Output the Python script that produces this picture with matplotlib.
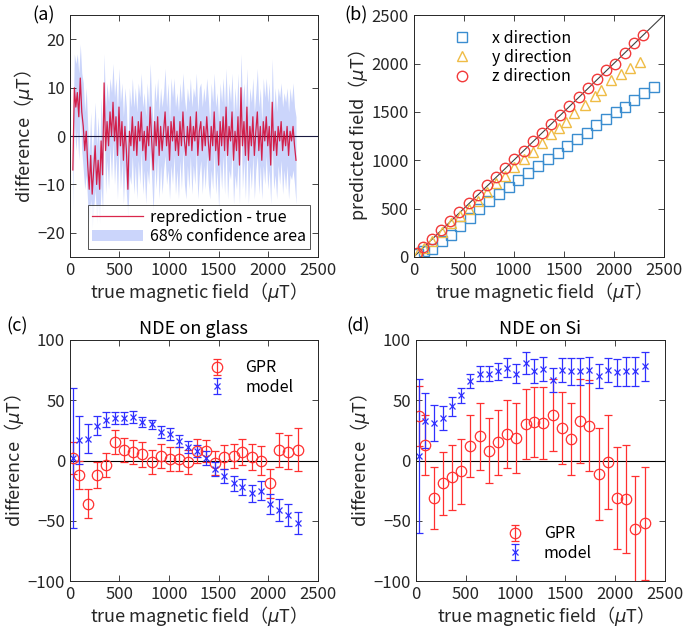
import numpy as np
import matplotlib
matplotlib.use('Agg')
import matplotlib.pyplot as plt

plt.rcParams['font.family'] = ['Noto Sans CJK JP', 'DejaVu Sans']
plt.rcParams['mathtext.fontset'] = 'dejavusans'

# ---- (a) reprediction - true ----
a_x = np.arange(30, 2281, 15)
a_diff = [
    -7, 10, 6, 9, 4, 12, 5, 2, -3, 1,
    -6, -11, -4, -12, -7, -2, -10, -5, -11, -1,
    -8, 11, -3, 3, -2, 5, 0, 7, -1, 4,
    -4, 6, -2, 3, -5, 2, -3, -11, 1, -2,
    4, -3, 2, -4, 3, -1, 5, -3, 1, -5,
    2, -2, 6, -1, -7, 3, -2, 4, -4, 2,
    -3, 1, 5, -2, 2, -5, 3, -1, 4, -3,
    1, -4, 3, -2, 5, -1, -4, 2, -2, 4,
    -3, 2, -1, 5, -4, 1, 3, -3, 2, -2,
    4, -1, -5, 2, -2, 5, -3, 1, -6, 3,
    -2, 4, -3, 6, -4, 2, -1, 5, -5, 1,
    -3, 4, -6, 10, -2, 3, -4, 6, -5, 2,
    -2, 4, -4, 1, 5, -3, 2, -5, 3, -1,
    4, -2, 2, -6, 7, -3, 1, -4, 2, -1,
    3, -3, 1, -2, 2, -4, 1, -1, 2, -2,
    -5]
a_sigma = [
    8, 7, 9, 8, 9, 7, 8, 9, 8, 9,
    8, 7, 9, 7, 8, 9, 8, 9, 7, 9,
    8, 6, 9, 8, 9, 7, 9, 8, 9, 8,
    9, 8, 9, 8, 9, 8, 9, 6, 9, 8,
    8, 9, 8, 9, 8, 9, 8, 9, 8, 9,
    9, 8, 9, 8, 9, 8, 9, 8, 9, 8,
    9, 8, 9, 8, 9, 8, 9, 9, 8, 9,
    8, 9, 8, 9, 8, 9, 9, 8, 9, 8,
    9, 8, 9, 8, 9, 9, 8, 9, 8, 9,
    8, 9, 8, 9, 9, 8, 9, 8, 9, 8,
    9, 8, 9, 8, 9, 9, 8, 8, 9, 9,
    8, 9, 8, 7, 9, 8, 9, 8, 9, 8,
    9, 8, 9, 8, 9, 9, 8, 8, 9, 9,
    8, 9, 9, 8, 9, 8, 9, 9, 8, 9,
    8, 9, 8, 9, 8, 9, 9, 8, 9, 8,
    9]

# ---- (b) predicted vs true ----
bx_true = [43, 100, 180, 280, 373, 467, 560, 653, 753, 853, 953, 1047, 1147,
           1247, 1347, 1440, 1537, 1637, 1733, 1827, 1923, 2020, 2117, 2207, 2300, 2400]
bx_pred = [34, 58, 83, 162, 230, 316, 402, 495, 581, 650, 719, 798, 873,
           942, 1011, 1080, 1152, 1217, 1279, 1362, 1427, 1496, 1554, 1623, 1699, 1754]
by_true = [40, 100, 185, 280, 370, 460, 550, 640, 730, 825, 915, 1005, 1100,
           1190, 1280, 1370, 1450, 1520, 1600, 1710, 1810, 1877, 1977, 2070, 2167, 2260]
by_pred = [38, 90, 170, 260, 350, 420, 500, 580, 670, 760, 840, 930, 1010,
           1090, 1175, 1270, 1330, 1400, 1490, 1570, 1665, 1730, 1829, 1891, 1950, 2019]
bz_true = [35, 95, 185, 275, 365, 455, 550, 640, 730, 825, 915, 1005, 1100,
           1190, 1280, 1375, 1465, 1555, 1650, 1740, 1835, 1925, 2015, 2110, 2200, 2290]
bz_pred = [40, 100, 190, 280, 370, 465, 555, 645, 740, 830, 920, 1010, 1100,
           1195, 1285, 1380, 1470, 1560, 1655, 1745, 1840, 1930, 2000, 2110, 2210, 2300]

# ---- (c), (d) NDE ----
nde_x = [35, 95, 185, 275, 365, 455, 545, 640, 730, 825, 915, 1005, 1100,
         1190, 1280, 1375, 1465, 1555, 1650, 1740, 1835, 1925, 2020, 2110, 2200, 2295]

glass_gpr = [2, -12, -36, -12, -4, 15, 9, 7, 5, -1, 4, 1, 1,
             -1, 8, 8, -2, 3, 4, 7, 3, 0, -19, 9, 7, 9]
glass_gpr_err = [13, 12, 12, 11, 10, 10, 10, 10, 10, 10, 10, 10, 10,
                 10, 10, 9, 10, 10, 10, 11, 11, 12, 12, 14, 14, 18]
glass_model = [2, 17, 18, 29, 34, 35, 35, 36, 32, 30, 24, 22, 16,
               11, 8, 2, -7, -13, -19, -22, -27, -25, -36, -41, -45, -52]
glass_model_err = [58, 20, 12, 8, 6, 5, 5, 5, 4, 4, 5, 5, 5,
                   5, 5, 6, 6, 6, 6, 7, 7, 8, 8, 9, 9, 9]

si_gpr = [37, 13, -31, -19, -14, -9, 12, 20, 8, 15, 22, 19, 30,
          32, 31, 38, 27, 18, 33, 29, -11, -1, -31, -32, -57, -52]
si_gpr_err = [25, 25, 26, 26, 27, 27, 26, 28, 27, 27, 28, 29, 29,
              29, 30, 30, 30, 30, 35, 38, 38, 39, 42, 45, 44, 47]
si_model = [4, 33, 31, 35, 45, 54, 66, 72, 72, 74, 77, 72, 81,
            74, 76, 67, 75, 74, 74, 75, 70, 75, 73, 74, 74, 78]
si_model_err = [64, 23, 15, 10, 8, 6, 6, 6, 6, 7, 8, 8, 9,
                10, 10, 10, 10, 11, 11, 11, 10, 10, 11, 12, 12, 12]

fig = plt.figure(figsize=(6.85, 6.33), dpi=100)
ax_a = fig.add_axes([0.102, 0.594, 0.362, 0.382])
ax_b = fig.add_axes([0.604, 0.594, 0.365, 0.382])
ax_c = fig.add_axes([0.102, 0.082, 0.362, 0.381])
ax_d = fig.add_axes([0.607, 0.082, 0.364, 0.381])

mu = 'true magnetic field（$\\mu$T）'
dif = 'difference（$\\mu$T）'
TXT = '#262626'


def style(ax):
    ax.tick_params(direction='in', top=True, right=True, labelsize=12,
                   colors=TXT, length=4, width=0.6)
    for s in ax.spines.values():
        s.set_color(TXT)
        s.set_linewidth(0.7)
    ax.set_xlim(0, 2500)
    ax.set_xticks([0, 500, 1000, 1500, 2000, 2500])
    ax.set_xlabel(mu, fontsize=13, color=TXT, labelpad=1)


# (a)
d = np.array(a_diff, dtype=float)
sg = np.array(a_sigma, dtype=float)
band = ax_a.fill_between(a_x, d - sg, d + sg, color='#cbd5fb', lw=0)
ax_a.axhline(0, color='#1a1a40', lw=0.8)
line, = ax_a.plot(a_x, d, color='#d4002c', lw=0.9, alpha=0.85)
ax_a.set_ylim(-25, 25)
ax_a.set_yticks([-20, -10, 0, 10, 20])
ax_a.set_ylabel(dif, fontsize=13, color=TXT, labelpad=1)
style(ax_a)
leg = ax_a.legend([line, band], ['reprediction - true', '68% confidence area'],
                  loc='lower right', fontsize=11.5, frameon=True, fancybox=False,
                  borderpad=0.25, handlelength=3.2, labelspacing=0.15,
                  borderaxespad=0.5, handletextpad=0.4)
leg.get_frame().set_edgecolor(TXT)
leg.get_frame().set_linewidth(0.7)
ax_a.text(-0.15, 1.0, '(a)', transform=ax_a.transAxes, fontsize=13,
          va='center', ha='left')

# (b)
ax_b.plot([0, 2500], [0, 2500], color='#404040', lw=0.8)
ax_b.plot(bx_true, bx_pred, 's', mfc='none', mec='#3a8dd0', ms=6.5, mew=1.0,
          label='x direction')
ax_b.plot(by_true, by_pred, '^', mfc='none', mec='#efbc45', ms=7.5, mew=1.0,
          label='y direction')
ax_b.plot(bz_true, bz_pred, 'o', mfc='none', mec='#f23a3a', ms=7.5, mew=1.0,
          label='z direction')
ax_b.set_ylim(0, 2500)
ax_b.set_yticks([0, 500, 1000, 1500, 2000, 2500])
ax_b.set_ylabel('predicted field（$\\mu$T）', fontsize=13, color=TXT,
                labelpad=1)
style(ax_b)
ax_b.legend(loc='upper left', fontsize=11.5, frameon=False, handletextpad=0.9,
            labelspacing=0.15, bbox_to_anchor=(0.07, 1.0))
ax_b.text(-0.276, 1.0, '(b)', transform=ax_b.transAxes, fontsize=13,
          va='center', ha='left')


def nde(ax, gpr, gpr_err, model, model_err, title, label, lx, legloc, anchor):
    ax.axhline(0, color='k', lw=0.8)
    ax.errorbar(nde_x, gpr, yerr=gpr_err, fmt='o', mfc='none', mec='#ff3030',
                ecolor='#ff3030', ms=7.5, mew=0.9, elinewidth=0.9, capsize=3,
                capthick=0.9, label='GPR')
    ax.errorbar(nde_x, model, yerr=model_err, fmt='x', color='#3030ff',
                ms=5, mew=0.9, elinewidth=0.9, capsize=3, capthick=0.9,
                label='model')
    ax.set_ylim(-100, 100)
    ax.set_yticks([-100, -50, 0, 50, 100])
    ax.set_ylabel(dif, fontsize=13, color=TXT, labelpad=1)
    style(ax)
    ax.set_title(title, fontsize=13, pad=4)
    ax.legend(loc=legloc, bbox_to_anchor=anchor, fontsize=11.5, frameon=False,
              handletextpad=0.8, labelspacing=0.15)
    ax.text(lx, 1.055, label, transform=ax.transAxes, fontsize=13,
            va='center', ha='left')


nde(ax_c, glass_gpr, glass_gpr_err, glass_model, glass_model_err,
    'NDE on glass', '(c)', -0.255, 'upper right', (0.96, 0.98))
nde(ax_d, si_gpr, si_gpr_err, si_model, si_model_err,
    'NDE on Si', '(d)', -0.28, 'lower center', (0.52, 0.02))

fig.savefig('out.png', dpi=100)
